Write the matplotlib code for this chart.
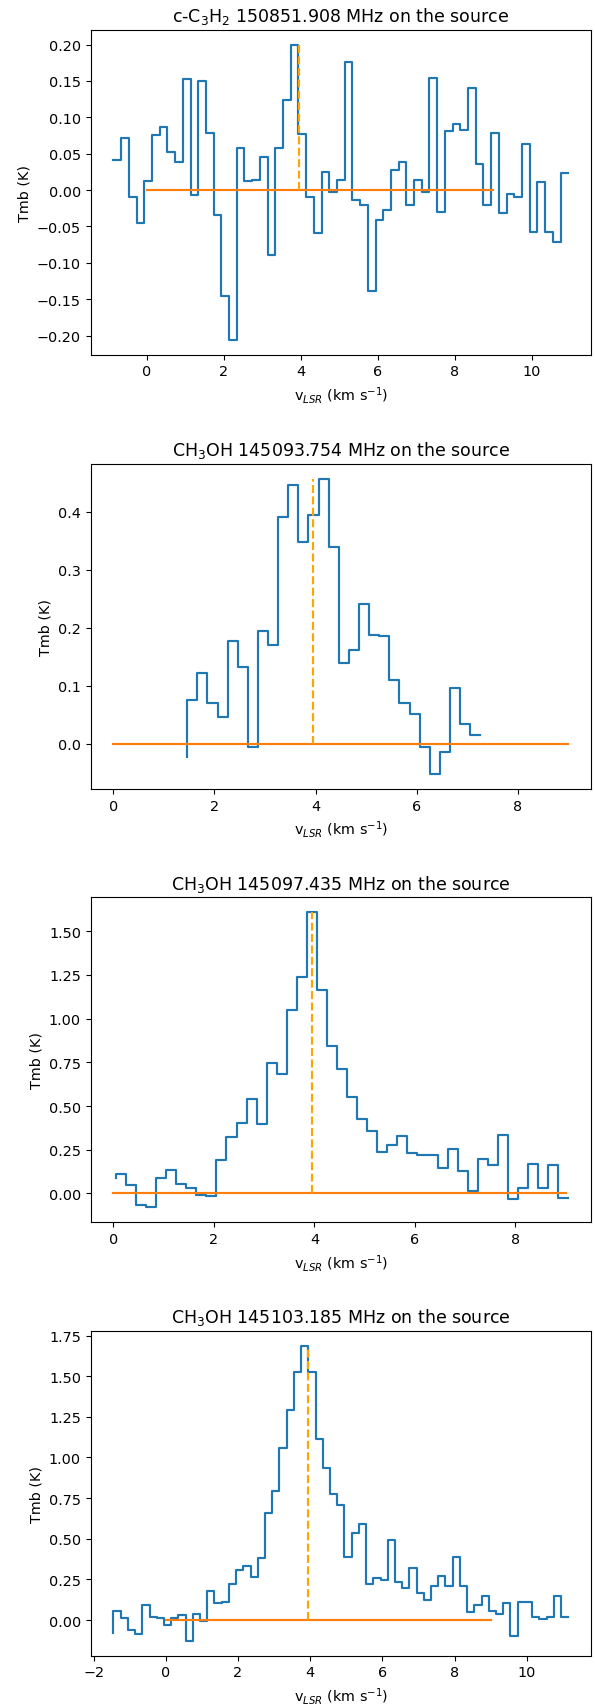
import numpy as np
import matplotlib
matplotlib.use("Agg")
import matplotlib.pyplot as plt

# Spectra: first velocity (km/s), channel width, and Tmb values (K)
dv = 0.2

titles = [
    r"c-C$_3$H$_2$ 150851.908 MHz on the source",
    r"CH$_3$OH 145093.754 MHz on the source",
    r"CH$_3$OH 145097.435 MHz on the source",
    r"CH$_3$OH 145103.185 MHz on the source",
]

v0_c3h2 = -0.86
tmb_c3h2 = [
    0.041, 0.041, 0.071, -0.009, -0.045, 0.013, 0.075, 0.087, 0.053, 0.038,
    0.152, -0.007, 0.150, 0.079, -0.034, -0.145, -0.206, 0.058, 0.012, 0.014,
    0.045, -0.089, 0.058, 0.124, 0.200, 0.077, -0.009, -0.059, 0.025, -0.003,
    0.014, 0.176, -0.014, -0.021, -0.139, -0.041, -0.028, 0.027, 0.038, -0.021,
    0.014, -0.002, 0.154, -0.030, 0.081, 0.091, 0.083, 0.140, 0.036, -0.021,
    0.079, -0.032, -0.005, -0.009, 0.063, -0.058, 0.011, -0.058, -0.071, 0.024,
]

v0_ch3oh_a = 1.46
tmb_ch3oh_a = [
    -0.022, 0.075, 0.122, 0.071, 0.046, 0.177, 0.132, -0.005, 0.194, 0.170,
    0.391, 0.445, 0.347, 0.395, 0.457, 0.339, 0.140, 0.162, 0.241, 0.188,
    0.185, 0.110, 0.071, 0.051, -0.006, -0.052, -0.014, 0.097, 0.034, 0.016,
]

v0_ch3oh_b = 0.05
tmb_ch3oh_b = [
    0.090, 0.110, 0.050, -0.066, -0.080, 0.086, 0.137, 0.053, 0.029, -0.008,
    -0.013, 0.192, 0.324, 0.402, 0.539, 0.398, 0.744, 0.683, 1.047, 1.237,
    1.609, 1.165, 0.843, 0.714, 0.552, 0.426, 0.358, 0.240, 0.276, 0.326,
    0.230, 0.219, 0.219, 0.143, 0.255, 0.131, 0.015, 0.196, 0.162, 0.335,
    -0.034, 0.034, 0.169, 0.034, 0.162, -0.023,
]

v0_ch3oh_c = -1.45
tmb_ch3oh_c = [
    -0.080, 0.055, 0.012, -0.064, -0.086, 0.092, 0.016, 0.012, -0.029, 0.014,
    0.031, -0.129, 0.039, -0.004, 0.178, 0.105, 0.113, 0.219, 0.307, 0.332,
    0.266, 0.381, 0.658, 0.791, 1.057, 1.295, 1.527, 1.689, 1.527, 1.115,
    0.936, 0.775, 0.709, 0.387, 0.533, 0.588, 0.223, 0.258, 0.244, 0.494,
    0.236, 0.195, 0.318, 0.164, 0.121, 0.211, 0.271, 0.209, 0.387, 0.211,
    0.051, 0.092, 0.150, 0.057, 0.035, 0.107, -0.096, 0.113, 0.113, 0.018,
    0.008, 0.018, 0.145, 0.016,
]

v_starts = [v0_c3h2, v0_ch3oh_a, v0_ch3oh_b, v0_ch3oh_c]
spectra = [tmb_c3h2, tmb_ch3oh_a, tmb_ch3oh_b, tmb_ch3oh_c]

v_source = 3.95          # systemic velocity marker
baseline_range = [0.0, 9.0]

plt.rcParams["font.size"] = 10.4
plt.rcParams["axes.titlesize"] = 12.5

fig = plt.figure(figsize=(5.95, 17.08), dpi=100)

left, width, height = 0.1524, 0.8408, 0.1903
bottoms = [0.7917, 0.5376, 0.2838, 0.0300]

for title, v0, tmb, bottom in zip(titles, v_starts, spectra, bottoms):
    ax = fig.add_axes([left, bottom, width, height])
    tmb = np.asarray(tmb)
    vel = v0 + dv * np.arange(len(tmb))
    ax.step(vel, tmb, where="pre", color="C0", lw=1.55)
    ax.plot(baseline_range, [0, 0], color="C1", lw=1.55)
    ax.plot([v_source, v_source], [0, tmb.max()], "--", color="orange", lw=1.55)
    ax.set_title(title)
    ax.set_xlabel(r"v$_{LSR}$ (km s$^{-1}$)")
    ax.set_ylabel("Tmb (K)")

fig.savefig("out.png", dpi=100)
